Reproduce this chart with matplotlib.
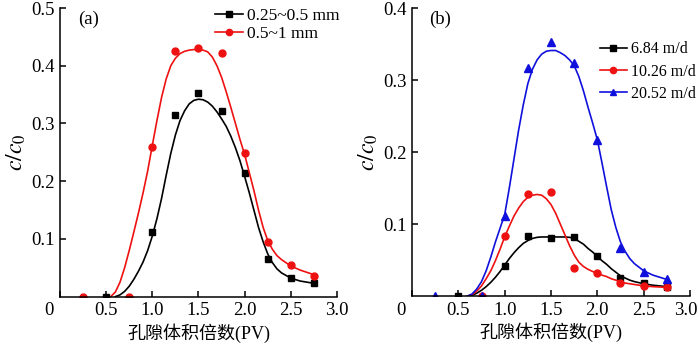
import numpy as np
import matplotlib
matplotlib.use("Agg")
import matplotlib.pyplot as plt
from matplotlib.lines import Line2D
from matplotlib.transforms import ScaledTranslation

plt.rcParams['font.family'] = ['Liberation Serif', 'Noto Sans CJK SC']
plt.rcParams['mathtext.fontset'] = 'stix'

# measured points
pv = [0.25, 0.5, 0.75, 1.0, 1.25, 1.5, 1.75, 2.0, 2.25, 2.5, 2.75]
a_small = [np.nan, 0, np.nan, 0.112, 0.315, 0.352, 0.322, 0.215, 0.066, 0.033, 0.024]
a_large = [0, np.nan, 0, 0.26, 0.426, 0.43, 0.422, 0.248, 0.094, 0.054, 0.036]
b_slow = [np.nan, 0, np.nan, 0.042, 0.084, 0.081, 0.082, 0.055, 0.025, 0.018, 0.012]
b_mid = [np.nan, np.nan, 0, 0.083, 0.142, 0.145, 0.0385, 0.032, 0.0185, 0.014, 0.012]
b_fast = [0, np.nan, 0, 0.111, 0.316, 0.353, 0.323, 0.216, 0.066, 0.034, 0.024]

# fitted curves
fit_x = [0.6, 0.65, 0.7, 0.75, 0.8, 0.85, 0.9, 0.95, 1.0, 1.05, 1.1, 1.15, 1.2, 1.25,
         1.3, 1.35, 1.4, 1.45, 1.5, 1.55, 1.6, 1.65, 1.7, 1.75, 1.8, 1.85, 1.9, 1.95,
         2.0, 2.05, 2.1, 2.15, 2.2, 2.25, 2.3, 2.35, 2.4, 2.5, 2.6, 2.75]
fit_a_small = [0, 0.003, 0.009, 0.018, 0.03, 0.044, 0.06, 0.08, 0.105, 0.135, 0.17, 0.21,
               0.248, 0.28, 0.305, 0.322, 0.334, 0.34, 0.342, 0.341, 0.337, 0.33, 0.32,
               0.308, 0.295, 0.278, 0.258, 0.235, 0.208, 0.18, 0.15, 0.12, 0.095, 0.074,
               0.059, 0.048, 0.041, 0.032, 0.027, 0.023]
fit_a_large = [0.008, 0.025, 0.05, 0.08, 0.112, 0.145, 0.18, 0.218, 0.262, 0.305, 0.345,
               0.377, 0.4, 0.413, 0.421, 0.425, 0.427, 0.428, 0.428, 0.427, 0.424, 0.415,
               0.4, 0.38, 0.355, 0.328, 0.3, 0.272, 0.246, 0.215, 0.184, 0.15, 0.12, 0.097,
               0.082, 0.071, 0.064, 0.053, 0.046, 0.038]
fit_b_slow = [0, 0.001, 0.004, 0.008, 0.013, 0.019, 0.026, 0.034, 0.043, 0.052, 0.06, 0.067,
              0.073, 0.077, 0.08, 0.0815, 0.082, 0.082, 0.082, 0.082, 0.082, 0.082, 0.0815,
              0.08, 0.076, 0.072, 0.066, 0.061, 0.055, 0.049, 0.044, 0.038, 0.033, 0.028,
              0.025, 0.022, 0.02, 0.017, 0.015, 0.013]
fit_b_mid = [0, 0.002, 0.007, 0.014, 0.024, 0.035, 0.049, 0.065, 0.082, 0.097, 0.111, 0.122,
             0.131, 0.137, 0.14, 0.141, 0.14, 0.135, 0.127, 0.115, 0.1, 0.085, 0.07, 0.057,
             0.047, 0.041, 0.037, 0.034, 0.032, 0.029, 0.027, 0.024, 0.022, 0.02, 0.018,
             0.017, 0.016, 0.014, 0.013, 0.012]
fit_b_fast = [0, 0.003, 0.01, 0.02, 0.035, 0.054, 0.075, 0.094, 0.113, 0.15, 0.19, 0.23,
              0.265, 0.295, 0.315, 0.328, 0.336, 0.34, 0.341, 0.341, 0.338, 0.334, 0.328,
              0.32, 0.305, 0.285, 0.262, 0.24, 0.217, 0.185, 0.152, 0.12, 0.095, 0.075,
              0.062, 0.052, 0.045, 0.035, 0.029, 0.023]
fit_a_large_x = [0.55] + fit_x
fit_a_large = [0] + fit_a_large

x_ticks = [0, 0.5, 1.0, 1.5, 2.0, 2.5, 3.0]
x_labels = ['0', '0.5', '1.0', '1.5', '2.0', '2.5', '3.0']
a_yticks = [0.1, 0.2, 0.3, 0.4, 0.5]
b_yticks = [0.1, 0.2, 0.3, 0.4]

RED = '#ee1111'
BLUE = '#1010dd'

fig = plt.figure(figsize=(7, 3.45), dpi=100)
ax1 = fig.add_axes([0.0857, 0.1403, 0.3957, 0.8365])
ax2 = fig.add_axes([0.5886, 0.142, 0.3971, 0.8348])


def shift_label(ax, i, dx_pt):
    lab = ax.get_xticklabels()[i]
    lab.set_transform(lab.get_transform() + ScaledTranslation(dx_pt / 72, 0, fig.dpi_scale_trans))


def style(ax, ymax, yticks):
    ax.set_xlim(0, 3.0)
    ax.set_ylim(0, ymax)
    ax.spines['top'].set_visible(False)
    ax.spines['right'].set_visible(False)
    for s in ('left', 'bottom'):
        ax.spines[s].set_linewidth(1.1)
    ax.set_xticks(x_ticks)
    ax.set_xticklabels(x_labels)
    ax.set_yticks(yticks)
    ax.set_yticklabels([f'{t:.1f}' for t in yticks])
    ax.tick_params(direction='in', length=4.5, width=1.1, labelsize=13.5, pad=4)
    shift_label(ax, 0, -8)
    ax.set_xlabel('孔隙体积倍数(PV)', fontsize=13, labelpad=3)
    ax.set_ylabel(r'$c/c_0$', fontsize=17, labelpad=2)


def series(ax, fx, fy, px, py, color, marker, ms):
    ax.plot(fx, fy, color=color, lw=1.2)
    ax.plot(px, py, linestyle='none', marker=marker, color=color, ms=ms)
    return Line2D([], [], color=color, lw=1.2, marker=marker, ms=ms - 0.5)


h1 = series(ax1, fit_x, fit_a_small, pv, a_small, 'black', 's', 4.5)
h2 = series(ax1, fit_a_large_x, fit_a_large, pv, a_large, RED, 'o', 5)
style(ax1, 0.5, a_yticks)
ax1.text(0.065, 0.99, '(a)', transform=ax1.transAxes, fontsize=13.5, va='top')
ax1.legend([h1, h2], ['0.25~0.5 mm', '0.5~1 mm'], loc='upper left',
           bbox_to_anchor=(0.56, 1.0), frameon=False, fontsize=12.5,
           handlelength=1.6, handletextpad=0.25, labelspacing=0.1,
           borderpad=0, borderaxespad=0)

g1 = series(ax2, fit_x, fit_b_slow, pv, b_slow, 'black', 's', 4.5)
g2 = series(ax2, fit_x, fit_b_mid, pv, b_mid, RED, 'o', 5)
g3 = series(ax2, fit_x, fit_b_fast, pv, b_fast, BLUE, '^', 5.5)
style(ax2, 0.4, b_yticks)
shift_label(ax2, -1, -3)
ax2.text(0.06, 0.99, '(b)', transform=ax2.transAxes, fontsize=13.5, va='top')
ax2.legend([g1, g2, g3], ['6.84 m/d', '10.26 m/d', '20.52 m/d'], loc='upper left',
           bbox_to_anchor=(0.675, 0.885), frameon=False, fontsize=11.5,
           handlelength=1.7, handletextpad=0.25, labelspacing=0.4,
           borderpad=0, borderaxespad=0)

fig.savefig('out.png', dpi=100)
